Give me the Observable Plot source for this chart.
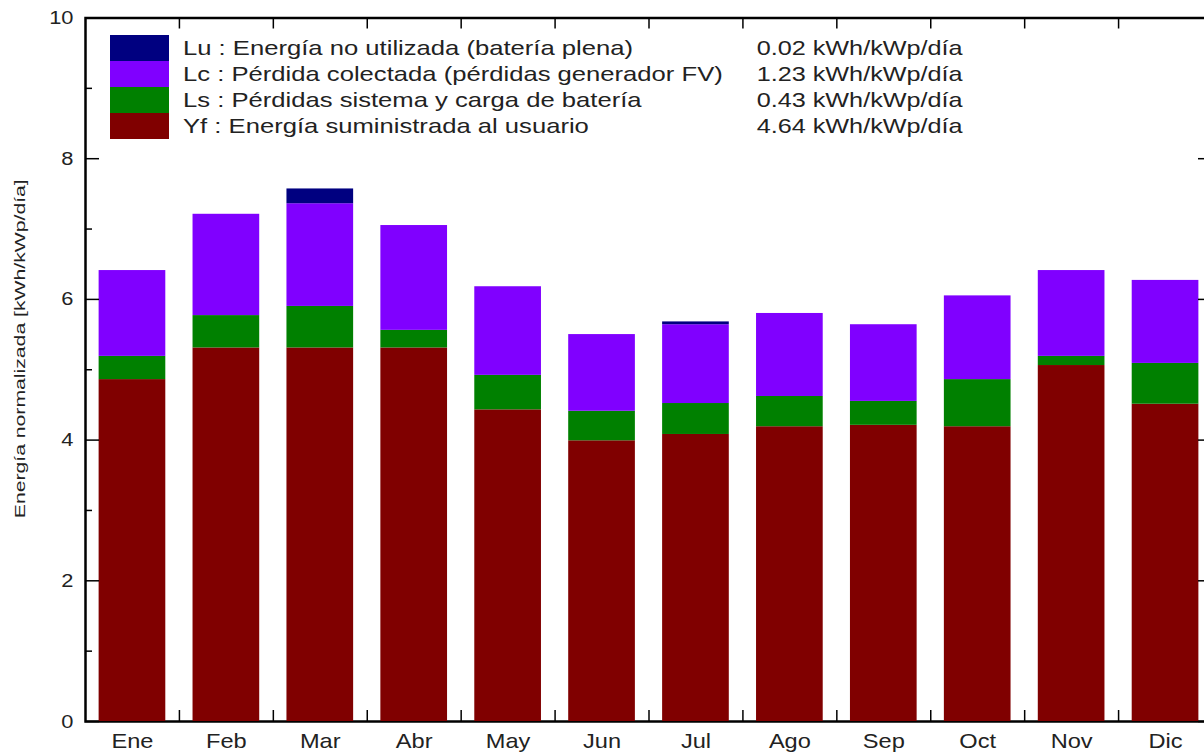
<!DOCTYPE html>
<html>
<head>
<meta charset="utf-8">
<script src="https://cdn.jsdelivr.net/npm/d3@7"></script>
<script src="https://cdn.jsdelivr.net/npm/@observablehq/plot@0.6"></script>
<style>
  html, body { margin: 0; padding: 0; background: #fff; overflow: hidden; }
  #chart { position: relative; width: 1204px; height: 753px; font-family: "Liberation Sans", Arial, sans-serif; color: #222; }
  #chart svg { display: block; max-width: none; }
  #legend { position: absolute; left: 110px; top: 35px; width: 853px; }
  .row { position: relative; height: 26px; display: flex; align-items: center; }
  .sw { width: 59px; height: 26px; flex: none; }
  .txt { margin-left: 14px; font-size: 21px; display: inline-block; white-space: nowrap; transform: scaleX(1.22); transform-origin: left center; }
  .val { position: absolute; right: 0; font-size: 21px; white-space: nowrap; transform: scaleX(1.2); transform-origin: right center; }
</style>
</head>
<body>
<div id="chart"></div>
<script>
// Monthly normalized energies (kWh/kWp/día)
const months = ["Ene", "Feb", "Mar", "Abr", "May", "Jun", "Jul", "Ago", "Sep", "Oct", "Nov", "Dic"];
const yf = [4.86, 5.31, 5.31, 5.31, 4.43, 3.99, 4.08, 4.19, 4.21, 4.19, 5.06, 4.51];
const ls = [0.33, 0.46, 0.59, 0.25, 0.49, 0.42, 0.44, 0.43, 0.34, 0.67, 0.13, 0.58];
const lc = [1.22, 1.44, 1.46, 1.49, 1.26, 1.09, 1.12, 1.18, 1.09, 1.19, 1.22, 1.18];
const lu = [0, 0, 0.21, 0, 0, 0, 0.04, 0, 0, 0, 0, 0];

// Stack order from the bottom up, with colours
const seriesNames = ["Yf", "Ls", "Lc", "Lu"];
const seriesColors = ["#800000", "#008000", "#8000ff", "#000080"];

// Legend (top to bottom)
const legendNames = ["Lu", "Lc", "Ls", "Yf"];
const legendTexts = [
  "Lu : Energía no utilizada (batería plena)",
  "Lc : Pérdida colectada (pérdidas generador FV)",
  "Ls : Pérdidas sistema y carga de batería",
  "Yf : Energía suministrada al usuario"
];
const legendValues = ["0.02 kWh/kWp/día", "1.23 kWh/kWp/día", "0.43 kWh/kWp/día", "4.64 kWh/kWp/día"];

const yMajorTicks = [0, 2, 4, 6, 8, 10];
const yMinorTicks = [1, 3, 5, 7, 9];
const yLabel = "Energía normalizada [kWh/kWp/día]";

const seriesValues = {Yf: yf, Ls: ls, Lc: lc, Lu: lu};
const rows = months.flatMap((m, i) => seriesNames.map(s => ({month: m, serie: s, value: seriesValues[s][i]})));

// Layout
const W = 1204, H = 753;
const mL = 85, mR = -8, mT = 17.5, mB = 32;
const innerW = W - mL - mR, innerH = H - mT - mB;
const step = innerW / months.length;
const majorLen = 14, minorLen = 7, xTickLen = 11;

const svg = Plot.plot({
  width: W,
  height: H,
  marginLeft: mL,
  marginRight: mR,
  marginTop: mT,
  marginBottom: mB,
  style: {fontFamily: "'Liberation Sans', Arial, sans-serif", fontSize: "19px", color: "#222", background: "white"},
  x: {domain: months, paddingInner: 0.29, paddingOuter: 0.145, round: false, axis: null},
  y: {domain: [0, 10], axis: null},
  color: {domain: seriesNames, range: seriesColors},
  marks: [
    Plot.frame({stroke: "black", strokeWidth: 2.5}),
    Plot.barY(rows, {x: "month", y: "value", fill: "serie"}),
    // y ticks, left and right, pointing inward
    Plot.ruleY(yMajorTicks, {y: d => d, stroke: "black", strokeWidth: 1.5, insetRight: innerW - majorLen}),
    Plot.ruleY(yMinorTicks, {y: d => d, stroke: "black", strokeWidth: 1.5, insetRight: innerW - minorLen}),
    Plot.ruleY(yMajorTicks, {y: d => d, stroke: "black", strokeWidth: 1.5, insetLeft: innerW - majorLen}),
    Plot.ruleY(yMinorTicks, {y: d => d, stroke: "black", strokeWidth: 1.5, insetLeft: innerW - minorLen}),
    // x ticks on the boundaries between months, bottom and top
    Plot.ruleX(months, {x: d => d, dx: step / 2, stroke: "black", strokeWidth: 1.5, insetTop: innerH - xTickLen}),
    Plot.ruleX(months, {x: d => d, dx: step / 2, stroke: "black", strokeWidth: 1.5, insetBottom: innerH - xTickLen}),
    Plot.axisY({ticks: yMajorTicks, tickSize: 0, tickPadding: 12, fontSize: 19, label: null}),
    Plot.axisX({tickSize: 0, tickPadding: 12, fontSize: 20, label: null}),
    Plot.text([yLabel], {frameAnchor: "left", textAnchor: "middle", rotate: -90, dx: -65, dy: -21, fontSize: 15, fill: "#222"})
  ]
});

// Widen the typeface along each tick label's baseline
const stretch = {"x-axis tick label": 1.18, "y-axis tick label": 1.15};
d3.select(svg).selectAll("g[aria-label]").each(function() {
  const k = stretch[this.getAttribute("aria-label")];
  if (!k) return;
  d3.select(this).selectAll("text").each(function() {
    const t = this.getAttribute("transform");
    if (t) this.setAttribute("transform", `${t} scale(${k},1)`);
  });
});
// Lengthen the rotated axis title
d3.select(svg).selectAll("text").filter(function() { return this.textContent === yLabel; })
  .attr("textLength", 339)
  .attr("lengthAdjust", "spacingAndGlyphs");

const chart = d3.select("#chart");
chart.node().appendChild(svg);

const legend = chart.append("div").attr("id", "legend");
legendNames.forEach((name, i) => {
  const row = legend.append("div").attr("class", "row");
  row.append("div").attr("class", "sw").style("background", seriesColors[seriesNames.indexOf(name)]);
  row.append("span").attr("class", "txt").text(legendTexts[i]);
  row.append("span").attr("class", "val").text(legendValues[i]);
});
</script>
</body>
</html>
